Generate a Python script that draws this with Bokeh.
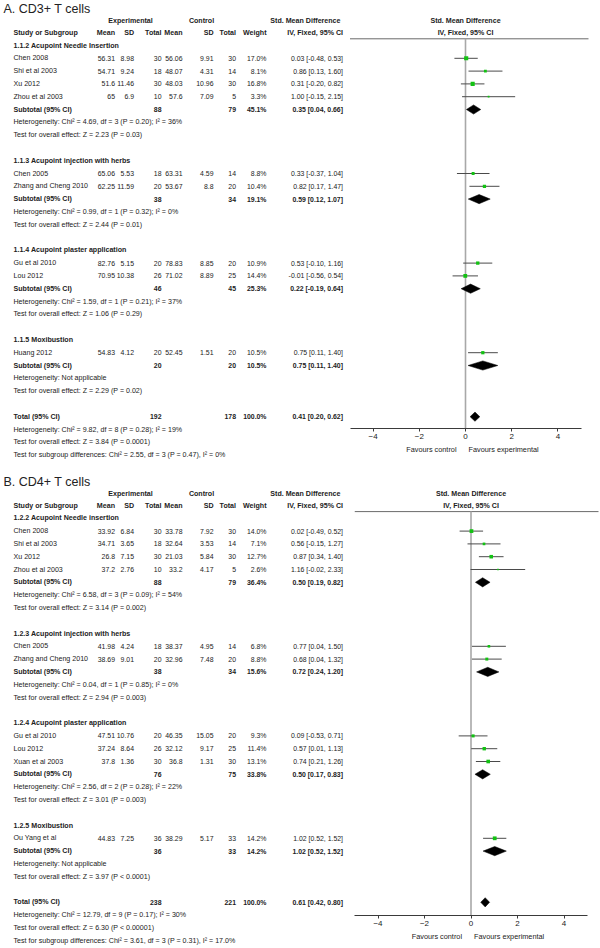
import math
from collections import OrderedDict
from bokeh.plotting import figure
from bokeh.models import Range1d, LinearAxis, FixedTicker, ColumnDataSource
from bokeh.embed import file_html
from bokeh.resources import INLINE
from bokeh.core.properties import value

# ======================= DATA =======================
# ---- Panel A: CD3+ T cells ----
a_title = "A. CD3+ T cells"
a_groups = ["1.1.2 Acupoint Needle Insertion", "1.1.3 Acupoint injection with herbs",
            "1.1.4 Acupoint plaster application", "1.1.5 Moxibustion"]
a_group = [0, 0, 0, 0, 1, 1, 2, 2, 3]
a_study = ["Chen 2008", "Shi et al 2003", "Xu 2012", "Zhou et al 2003", "Chen 2005",
           "Zhang and Cheng 2010", "Gu et al 2010", "Lou 2012", "Huang 2012"]
a_exp_mean = [56.31, 54.71, 51.6, 65, 65.06, 62.25, 82.76, 70.95, 54.83]
a_exp_sd = [8.98, 9.24, 11.46, 6.9, 5.53, 11.59, 5.15, 10.38, 4.12]
a_exp_n = [30, 18, 30, 10, 18, 20, 20, 26, 20]
a_ctl_mean = [56.06, 48.07, 48.03, 57.6, 63.31, 53.67, 78.83, 71.02, 52.45]
a_ctl_sd = [9.91, 4.31, 10.96, 7.09, 4.59, 8.8, 8.85, 8.89, 1.51]
a_ctl_n = [30, 14, 30, 5, 14, 20, 20, 25, 20]
a_weight = [17.0, 8.1, 16.8, 3.3, 8.8, 10.4, 10.9, 14.4, 10.5]
a_smd = [0.03, 0.86, 0.31, 1.00, 0.33, 0.82, 0.53, -0.01, 0.75]
a_lo = [-0.48, 0.13, -0.20, -0.15, -0.37, 0.17, -0.10, -0.56, 0.11]
a_hi = [0.53, 1.60, 0.82, 2.15, 1.04, 1.47, 1.16, 0.54, 1.40]
a_sub_exp_n = [88, 38, 46, 20]
a_sub_ctl_n = [79, 34, 45, 20]
a_sub_weight = [45.1, 19.1, 25.3, 10.5]
a_sub_smd = [0.35, 0.59, 0.22, 0.75]
a_sub_lo = [0.04, 0.12, -0.19, 0.11]
a_sub_hi = [0.66, 1.07, 0.64, 1.40]
a_sub_het = ["Heterogeneity: Chi² = 4.69, df = 3 (P = 0.20); I² = 36%",
             "Heterogeneity: Chi² = 0.99, df = 1 (P = 0.32); I² = 0%",
             "Heterogeneity: Chi² = 1.59, df = 1 (P = 0.21); I² = 37%",
             "Heterogeneity: Not applicable"]
a_sub_test = ["Test for overall effect: Z = 2.23 (P = 0.03)",
              "Test for overall effect: Z = 2.44 (P = 0.01)",
              "Test for overall effect: Z = 1.06 (P = 0.29)",
              "Test for overall effect: Z = 2.29 (P = 0.02)"]
a_tot = [192, 178, 100.0, 0.41, 0.20, 0.62]   # exp n, ctl n, weight, smd, lo, hi
a_tot_notes = ["Heterogeneity: Chi² = 9.82, df = 8 (P = 0.28); I² = 19%",
               "Test for overall effect: Z = 3.84 (P = 0.0001)",
               "Test for subgroup differences: Chi² = 2.55, df = 3 (P = 0.47), I² = 0%"]

# ---- Panel B: CD4+ T cells ----
b_title = "B. CD4+ T cells"
b_groups = ["1.2.2 Acupoint Needle insertion", "1.2.3 Acupoint injection with herbs",
            "1.2.4 Acupoint plaster application", "1.2.5 Moxibustion"]
b_group = [0, 0, 0, 0, 1, 1, 2, 2, 2, 3]
b_study = ["Chen 2008", "Shi et al 2003", "Xu 2012", "Zhou et al 2003", "Chen 2005",
           "Zhang and Cheng 2010", "Gu et al 2010", "Lou 2012", "Xuan et al 2003", "Ou Yang et al"]
b_exp_mean = [33.92, 34.71, 26.8, 37.2, 41.98, 38.69, 47.51, 37.24, 37.8, 44.83]
b_exp_sd = [6.84, 3.65, 7.15, 2.76, 4.24, 9.01, 10.76, 8.64, 1.36, 7.25]
b_exp_n = [30, 18, 30, 10, 18, 20, 20, 26, 30, 36]
b_ctl_mean = [33.78, 32.64, 21.03, 33.2, 38.37, 32.96, 46.35, 32.12, 36.8, 38.29]
b_ctl_sd = [7.92, 3.53, 5.84, 4.17, 4.95, 7.48, 15.05, 9.17, 1.31, 5.17]
b_ctl_n = [30, 14, 30, 5, 14, 20, 20, 25, 30, 33]
b_weight = [14.0, 7.1, 12.7, 2.6, 6.8, 8.8, 9.3, 11.4, 13.1, 14.2]
b_smd = [0.02, 0.56, 0.87, 1.16, 0.77, 0.68, 0.09, 0.57, 0.74, 1.02]
b_lo = [-0.49, -0.15, 0.34, -0.02, 0.04, 0.04, -0.53, 0.01, 0.21, 0.52]
b_hi = [0.52, 1.27, 1.40, 2.33, 1.50, 1.32, 0.71, 1.13, 1.26, 1.52]
b_sub_exp_n = [88, 38, 76, 36]
b_sub_ctl_n = [79, 34, 75, 33]
b_sub_weight = [36.4, 15.6, 33.8, 14.2]
b_sub_smd = [0.50, 0.72, 0.50, 1.02]
b_sub_lo = [0.19, 0.24, 0.17, 0.52]
b_sub_hi = [0.82, 1.20, 0.83, 1.52]
b_sub_het = ["Heterogeneity: Chi² = 6.58, df = 3 (P = 0.09); I² = 54%",
             "Heterogeneity: Chi² = 0.04, df = 1 (P = 0.85); I² = 0%",
             "Heterogeneity: Chi² = 2.56, df = 2 (P = 0.28); I² = 22%",
             "Heterogeneity: Not applicable"]
b_sub_test = ["Test for overall effect: Z = 3.14 (P = 0.002)",
              "Test for overall effect: Z = 2.94 (P = 0.003)",
              "Test for overall effect: Z = 3.01 (P = 0.003)",
              "Test for overall effect: Z = 3.97 (P < 0.0001)"]
b_tot = [238, 221, 100.0, 0.61, 0.42, 0.80]
b_tot_notes = ["Heterogeneity: Chi² = 12.79, df = 9 (P = 0.17); I² = 30%",
               "Test for overall effect: Z = 6.30 (P < 0.00001)",
               "Test for subgroup differences: Chi² = 3.61, df = 3 (P = 0.31), I² = 17.0%"]

# ---- shared labels ----
col_headers = ["Study or Subgroup", "Mean", "SD", "Total", "Mean", "SD", "Total", "Weight", "IV, Fixed, 95% CI"]
group_headers = ["Experimental", "Control", "Std. Mean Difference"]
plot_headers = ["Std. Mean Difference", "IV, Fixed, 95% CI"]
smd_ticks = [-4, -2, 0, 2, 4]
smd_bounds = (-5, 5)
favours = ["Favours control", "Favours experimental"]

# ======================= LAYOUT / STYLE =======================
W, H = 600, 948
FONT = value("Liberation Sans")
FONT_NAME = "Liberation Sans"
TXT = "#222222"
GREEN = "#12c212"
FS = 7.1      # words
FN = 6.9      # numeric columns
X_NAME = 13
X_COLS = [114.5, 133.5, 161, 182, 213, 235.5, 266, 342.5]   # right edges of numeric columns
X_EXP_C, X_CTL_C, X_SMD_R = 130, 201, 340
X_TITLE = 3

fmt_n = lambda v: f"{v:g}"
fmt_w = lambda v: f"{v:.1f}%"
fmt_ci = lambda m, l, h: f"{m:.2f} [{l:.2f}, {h:.2f}]"

p = figure(width=W, height=H, x_range=Range1d(0, W), y_range=Range1d(H, 0),
           output_backend="svg", toolbar_location=None, x_axis_type=None, y_axis_type=None,
           min_border=0, min_border_left=0, min_border_right=0, min_border_top=0,
           min_border_bottom=0)
p.outline_line_color = None
p.background_fill_color = "white"
p.border_fill_color = "white"


def draw_texts(items, range_name="default"):
    groups = OrderedDict()
    for (x, y, s, align, bold, size, color) in items:
        g = groups.setdefault((align, bold, size, color), {"x": [], "y": [], "text": []})
        g["x"].append(x)
        g["y"].append(y)
        g["text"].append(s)
    for (align, bold, size, color), g in groups.items():
        p.text(x="x", y="y", text="text", source=ColumnDataSource(g), text_align=align,
               text_baseline="middle", text_font=FONT, text_font_size=f"{size}px",
               text_font_style="bold" if bold else "normal", text_color=color,
               x_range_name=range_name)


def build_panel(spec, title, gnames, grp, study, em, esd, en, cm, csd, cn, w, smd, lo, hi,
                s_en, s_cn, s_w, s_smd, s_lo, s_hi, s_het, s_test, tot, tot_notes):
    def ry(r):
        return spec["row1"] + (r - 1) * spec["pitch"]

    # row assignment
    r = 2
    r_ghdr, r_study, r_sub, r_het, r_test = [], [None] * len(study), [], [], []
    for g in range(len(gnames)):
        r_ghdr.append(r); r += 1
        for i in range(len(study)):
            if grp[i] == g:
                r_study[i] = r; r += 1
        r_sub.append(r); r += 1
        r_het.append(r); r += 1
        r_test.append(r); r += 1
        r += 1
    r_tot = r

    # ---------------- table ----------------
    it = []
    it.append((X_TITLE, spec["row1"] - 23.8, title, "left", False, 12.5, "#222222"))
    y0 = spec["row1"] - 11.7
    it.append((X_EXP_C, y0, group_headers[0], "center", True, FS, TXT))
    it.append((X_CTL_C, y0, group_headers[1], "center", True, FS, TXT))
    it.append((X_SMD_R, y0, group_headers[2], "right", True, FS, TXT))
    y1 = ry(1)
    it.append((X_NAME, y1, col_headers[0], "left", True, FS, TXT))
    for x, s in zip(X_COLS, col_headers[1:]):
        it.append((x, y1, s, "right", True, FS, TXT))
    for g in range(len(gnames)):
        it.append((X_NAME, ry(r_ghdr[g]), gnames[g], "left", True, FS, TXT))
        y = ry(r_sub[g])
        it.append((X_NAME, y, "Subtotal (95% CI)", "left", True, FS, TXT))
        it.append((X_COLS[2], y, fmt_n(s_en[g]), "right", True, FN, TXT))
        it.append((X_COLS[5], y, fmt_n(s_cn[g]), "right", True, FN, TXT))
        it.append((X_COLS[6], y, fmt_w(s_w[g]), "right", True, FN, TXT))
        it.append((X_COLS[7], y, fmt_ci(s_smd[g], s_lo[g], s_hi[g]), "right", True, FN, TXT))
        it.append((X_NAME, ry(r_het[g]), s_het[g], "left", False, FS, TXT))
        it.append((X_NAME, ry(r_test[g]), s_test[g], "left", False, FS, TXT))
    for i in range(len(study)):
        y = ry(r_study[i])
        vals = [fmt_n(em[i]), fmt_n(esd[i]), fmt_n(en[i]), fmt_n(cm[i]), fmt_n(csd[i]),
                fmt_n(cn[i]), fmt_w(w[i]), fmt_ci(smd[i], lo[i], hi[i])]
        it.append((X_NAME, y, study[i], "left", False, FS, TXT))
        for x, s in zip(X_COLS, vals):
            it.append((x, y, s, "right", False, FN, TXT))
    y = ry(r_tot)
    it.append((X_NAME, y, "Total (95% CI)", "left", True, FS, TXT))
    it.append((X_COLS[2], y, fmt_n(tot[0]), "right", True, FN, TXT))
    it.append((X_COLS[5], y, fmt_n(tot[1]), "right", True, FN, TXT))
    it.append((X_COLS[6], y, fmt_w(tot[2]), "right", True, FN, TXT))
    it.append((X_COLS[7], y, fmt_ci(tot[3], tot[4], tot[5]), "right", True, FN, TXT))
    for k, s in enumerate(tot_notes):
        it.append((X_NAME, ry(r_tot + 1 + k), s, "left", False, FS, TXT))
    draw_texts(it)

    # ---------------- forest (own SMD scale) ----------------
    zx, ppu, rn = spec["zero_x"], spec["ppu"], spec["name"]
    p.extra_x_ranges[rn] = Range1d((0 - zx) / ppu, (W - zx) / ppu)
    ay = spec["axis_y"]
    hl = spec["row1"] + 6.1
    p.segment(x0=[smd_bounds[0]], y0=[hl], x1=[(spec["line_end"] - zx) / ppu], y1=[hl],
              line_color="#6a6a6a", line_width=1, x_range_name=rn)
    p.segment(x0=[0], y0=[hl], x1=[0], y1=[ay], line_color="#a8a8a8", line_width=1.6,
              x_range_name=rn)
    sy = [ry(rr) for rr in r_study]
    p.segment(x0=lo, y0=sy, x1=hi, y1=sy, line_color="#4a4a4a", line_width=1, x_range_name=rn)
    p.scatter(x=smd, y=sy, marker="square", size=[math.sqrt(v) * 1.0 for v in w],
              fill_color=GREEN, line_color=None, x_range_name=rn)
    dh = 4.6
    dx, dy = [], []
    for g in range(len(gnames)):
        yy = ry(r_sub[g])
        dx.append([s_lo[g], s_smd[g], s_hi[g], s_smd[g]])
        dy.append([yy, yy - dh, yy, yy + dh])
    yy = ry(r_tot)
    dx.append([tot[4], tot[3], tot[5], tot[3]])
    dy.append([yy, yy - dh, yy, yy + dh])
    p.patches(xs=dx, ys=dy, fill_color="black", line_color="black", line_width=0.5,
              x_range_name=rn)
    fy = ay + 21
    fi = [(0, spec["row1"] - 11.7, plot_headers[0], "center", True, FS, TXT),
          (0, ry(1), plot_headers[1], "center", True, FS, TXT),
          (-9 / ppu, fy, favours[0], "right", False, 7.3, TXT),
          (3 / ppu, fy, favours[1], "left", False, 7.3, TXT)]
    draw_texts(fi, rn)

    ax = LinearAxis(x_range_name=rn, ticker=FixedTicker(ticks=smd_ticks), bounds=smd_bounds,
                    fixed_location=ay)
    ax.axis_line_color = "#3a3a3a"
    ax.major_tick_line_color = "#3a3a3a"
    ax.major_tick_out = 3
    ax.major_tick_in = 0
    ax.minor_tick_out = 0
    ax.minor_tick_in = 0
    ax.major_label_text_font = FONT_NAME
    ax.major_label_text_font_size = "8px"
    ax.major_label_text_color = TXT
    ax.major_label_standoff = 2
    p.add_layout(ax, "below")


spec_a = dict(name="smdA", row1=32.2, pitch=12.8, axis_y=428, zero_x=465, ppu=23.1, line_end=588)
spec_b = dict(name="smdB", row1=505, pitch=12.8, axis_y=915, zero_x=470.5, ppu=23.25, line_end=598)

build_panel(spec_a, a_title, a_groups, a_group, a_study, a_exp_mean, a_exp_sd, a_exp_n,
            a_ctl_mean, a_ctl_sd, a_ctl_n, a_weight, a_smd, a_lo, a_hi,
            a_sub_exp_n, a_sub_ctl_n, a_sub_weight, a_sub_smd, a_sub_lo, a_sub_hi,
            a_sub_het, a_sub_test, a_tot, a_tot_notes)
build_panel(spec_b, b_title, b_groups, b_group, b_study, b_exp_mean, b_exp_sd, b_exp_n,
            b_ctl_mean, b_ctl_sd, b_ctl_n, b_weight, b_smd, b_lo, b_hi,
            b_sub_exp_n, b_sub_ctl_n, b_sub_weight, b_sub_smd, b_sub_lo, b_sub_hi,
            b_sub_het, b_sub_test, b_tot, b_tot_notes)

open("out.html", "w").write(file_html(p, INLINE))
